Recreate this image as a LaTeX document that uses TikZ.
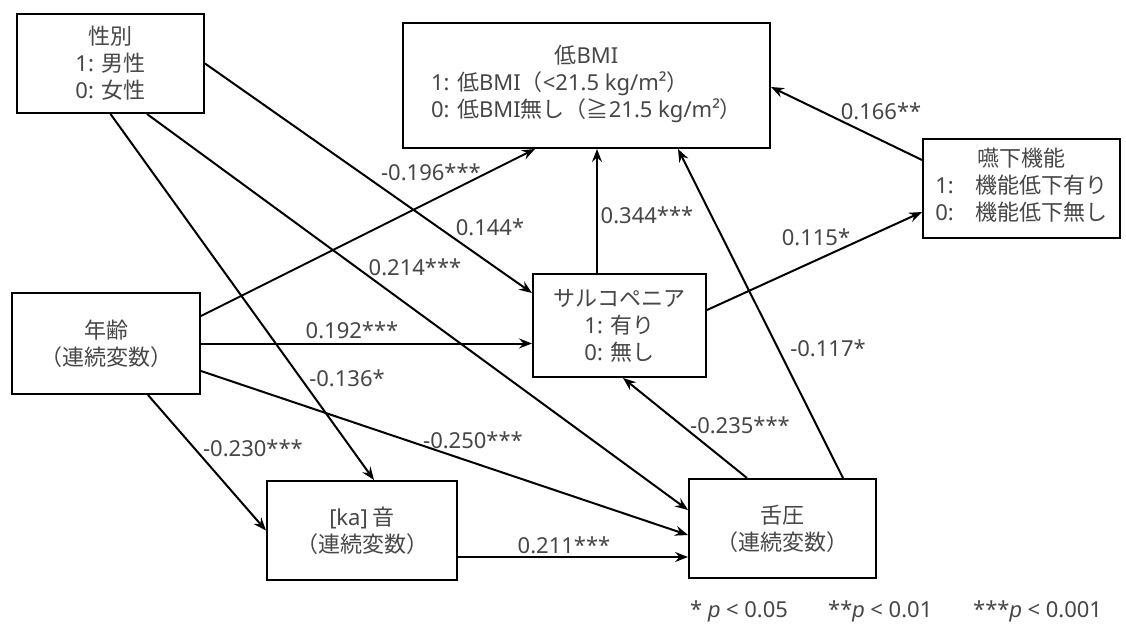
\documentclass[tikz,border=0pt]{standalone}
\usepackage{fontspec}
\setmainfont{Noto Sans CJK JP}
\newfontfamily\lat{Noto Sans}
\newfontfamily\pitfont{Liberation Sans}
\usetikzlibrary{arrows.meta}
\definecolor{txt}{RGB}{70,70,70}
\newcommand\lpar{\kern-.5em（}
\newcommand\rpar{）\kern-.5em}
\newcommand\La[1]{{\lat #1}}
\begin{document}
\begin{tikzpicture}[x=1pt,y=-1pt,
  box/.style={draw=black, line width=2pt, fill=white, align=center, text=txt,
    font=\fontsize{22}{27}\selectfont, inner sep=0pt},
  lab/.style={text=txt, font=\fontsize{22}{27}\selectfont\lat, inner sep=0pt},
  arr/.style={line width=2pt, -{Stealth[length=13pt,width=10pt,inset=4.5pt]}}]
\useasboundingbox[fill=white] (0,0) rectangle (1126,626);

\node[box, minimum width=187pt, minimum height=99pt] (sex) at (110.5,63.5) {性別\\\La{1: }男性\\\La{0: }女性};
\node[box, minimum width=367pt, minimum height=125pt] (bmi) at (586.5,85.5)
  {低\La{BMI}\\\begin{tabular}[t]{@{}l@{}}\La{1: }低\La{BMI}（\La{<21.5 kg/m²}）\\\La{0: }低\La{BMI}無し（≧\La{21.5 kg/m²}）\end{tabular}};
\node[box, minimum width=197pt, minimum height=99pt] (swal) at (1021.5,188.5)
  {嚥下機能\\\begin{tabular}[t]{@{}l@{}}\La{1:}　機能低下有り\\\La{0:}　機能低下無し\end{tabular}};
\node[box, minimum width=188pt, minimum height=101pt] (age) at (106,343.5) {年齢\\\lpar 連続変数\rpar};
\node[box, minimum width=173pt, minimum height=103pt] (sarco) at (619.5,325.5) {サルコペニア\\\La{1: }有り\\\La{0: }無し};
\node[box, minimum width=190pt, minimum height=99pt] (ka) at (362,530.5) {\La{[ka]} 音\\\lpar 連続変数\rpar};
\node[box, minimum width=187pt, minimum height=99pt] (tongue) at (782.5,528.5) {舌圧\\\lpar 連続変数\rpar};

\draw[arr] (sex.east) -- ([yshift=32.5pt]sarco.west);
\draw[arr] ([xshift=36.5pt]sex.south) -- ([yshift=18.5pt]tongue.west);
\draw[arr] (sex.south) -- ([xshift=12pt]ka.north);
\draw[arr] ([yshift=27.5pt]age.east) -- ([xshift=-51.5pt]bmi.south);
\draw[arr] (age.east) -- (age.east -| sarco.west);
\draw[arr] ([yshift=-27.5pt]age.east) -- ([yshift=-6.5pt]tongue.west);
\draw[arr] ([xshift=42pt]age.south) -- (ka.west);
\draw[arr] ([yshift=-26.5pt]ka.east) -- ([yshift=-26.5pt]ka.east -| tongue.west);
\draw[arr] ([xshift=-22.5pt]sarco.north) -- ([xshift=-22.5pt]sarco.north |- bmi.south);
\draw[arr] ([yshift=15.5pt]sarco.east) -- ([yshift=-23.5pt]swal.west);
\draw[arr] ([xshift=-35.5pt]tongue.north) -- ([xshift=3.5pt]sarco.south);
\draw[arr] ([xshift=60.5pt]tongue.north) -- ([xshift=91.5pt]bmi.south);
\draw[arr] ([yshift=28.5pt]swal.west) -- ([yshift=-1.5pt]bmi.east);

\node[lab] (l166) at (881,111) {0.166**};
\node[lab] (l115) at (816,237) {0.115*};
\node[lab] (l344) at (647,215) {0.344***};
\node[lab] (l196) at (431,172) {-0.196***};
\node[lab] (l144) at (490,227) {0.144*};
\node[lab] (l214) at (415,267) {0.214***};
\node[lab] (l192) at (352,330) {0.192***};
\node[lab] (l136) at (347,378) {-0.136*};
\node[lab] (l250) at (473,440) {-0.250***};
\node[lab] (l230) at (253,448) {-0.230***};
\node[lab] (l211) at (564,545) {0.211***};
\node[lab] (l117) at (828,348) {-0.117*};
\node[lab] (l235) at (740,425) {-0.235***};

\node[lab, anchor=base west] (leg1) at (690,617) {* {\pitfont\itshape p} < 0.05};
\node[lab, anchor=base west] (leg2) at (828,617) {**{\pitfont\itshape p} < 0.01};
\node[lab, anchor=base west] (leg3) at (973,617) {***{\pitfont\itshape p} < 0.001};
\end{tikzpicture}
\end{document}
